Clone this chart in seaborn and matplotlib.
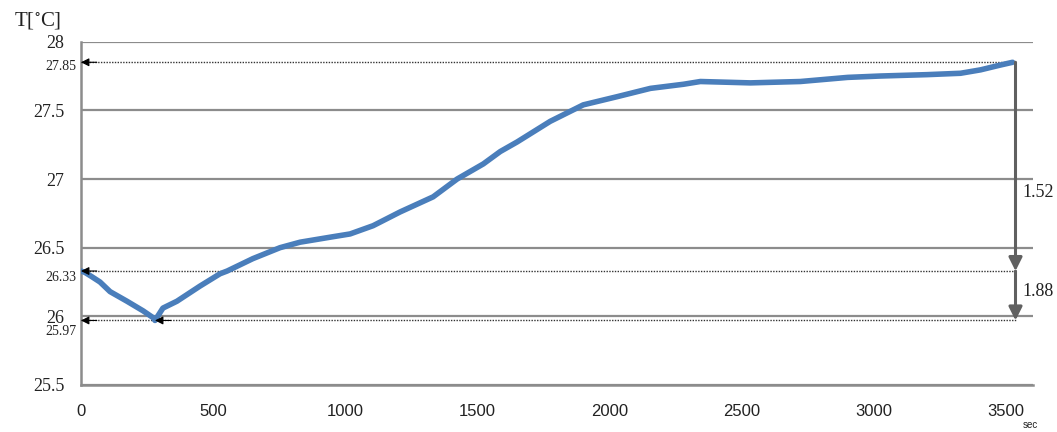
import matplotlib
matplotlib.use("Agg")
import matplotlib.pyplot as plt
import seaborn as sns
import pandas as pd

# ---- data ----
time_s = [0, 15, 40, 72, 110, 174, 235, 273, 280, 310, 363, 450, 526, 553, 650, 753, 829,
          954, 1018, 1105, 1207, 1332, 1423, 1522, 1586, 1650, 1775, 1900, 2029,
          2154, 2279, 2343, 2532, 2721, 2900, 3024, 3200, 3327, 3403, 3478, 3524]
temp_c = [26.33, 26.32, 26.29, 26.25, 26.18, 26.11, 26.04, 25.99, 25.97, 26.06, 26.11,
          26.22, 26.31, 26.33, 26.42, 26.50, 26.54, 26.58, 26.60, 26.66, 26.76, 26.87,
          27.00, 27.11, 27.20, 27.27, 27.42, 27.54, 27.60, 27.66, 27.69, 27.71, 27.70,
          27.71, 27.74, 27.75, 27.76, 27.77, 27.795, 27.83, 27.85]

y_ticks = [25.5, 26, 26.5, 27, 27.5, 28]
y_tick_labels = ["25.5", "26", "26.5", "27", "27.5", "28"]
x_ticks = [0, 500, 1000, 1500, 2000, 2500, 3000, 3500]
x_tick_labels = ["0", "500", "1000", "1500", "2000", "2500", "3000", "3500"]

marked_levels = [27.85, 26.33, 25.97]
marked_labels = ["27.85", "26.33", "25.97"]
min_time = 280
end_time = 3535
diff_labels = ["1.52", "1.88"]

df = pd.DataFrame({"t": time_s, "T": temp_c})

sns.set_theme(style="white")
plt.rcParams["font.family"] = ["Liberation Serif", "DejaVu Serif"]
plt.rcParams["mathtext.fontset"] = "stix"

fig = plt.figure(figsize=(10.57, 4.32), dpi=100)
ax = fig.add_axes([0.0766, 0.1088, 0.9004, 0.7947])

grid_c = "#8c8c8c"
sns.lineplot(data=df, x="t", y="T", ax=ax, color="#4a7ebb", linewidth=4.0,
             solid_capstyle="round", zorder=4)

ax.set_xlim(0, 3600)
ax.set_ylim(25.5, 28)
ax.set_yticks(y_ticks)
ax.set_yticklabels(y_tick_labels, fontsize=13, color="#222222")
ax.set_xticks(x_ticks)
ax.set_xticklabels(x_tick_labels, fontsize=12, color="#222222",
                   family=["Liberation Sans Narrow", "Liberation Sans"])
ax.tick_params(axis="y", length=0, pad=12)
ax.tick_params(axis="x", length=0, pad=14)
ax.set_xlabel("")
ax.set_ylabel("")

for v in y_ticks:
    ax.axhline(v, color=grid_c, lw=1.6, zorder=1)
for s in ["top", "right"]:
    ax.spines[s].set_visible(False)
for s in ["left", "bottom"]:
    ax.spines[s].set_color(grid_c)
    ax.spines[s].set_linewidth(1.8)

# dotted reference lines with arrowheads
for v in marked_levels:
    ax.plot([0, end_time], [v, v], ls=(0, (1, 1)), color="#333333", lw=1.0, zorder=3)
    ax.annotate("", xy=(0, v), xytext=(60, v),
                arrowprops=dict(arrowstyle="-|>", color="black", lw=0.8,
                                mutation_scale=12, shrinkA=0, shrinkB=0), zorder=5)
ax.annotate("", xy=(min_time, marked_levels[2]), xytext=(min_time + 60, marked_levels[2]),
            arrowprops=dict(arrowstyle="-|>", color="black", lw=0.8,
                            mutation_scale=12, shrinkA=0, shrinkB=0), zorder=5)

# small level labels left of the axis (sitting slightly below their lines)
label_offsets = [-0.03, -0.045, -0.08]
for v, lab, off in zip(marked_levels, marked_labels, label_offsets):
    ax.text(-18, v + off, lab, ha="right", va="center", fontsize=10, color="#222222",
            clip_on=False)

# vertical difference arrows
ax.annotate("", xy=(end_time, marked_levels[1]), xytext=(end_time, marked_levels[0]),
            arrowprops=dict(arrowstyle="-|>", color="#606060", lw=2.2,
                            mutation_scale=20, shrinkA=0, shrinkB=0), zorder=5)
ax.annotate("", xy=(end_time, marked_levels[2]), xytext=(end_time, marked_levels[1]),
            arrowprops=dict(arrowstyle="-|>", color="#606060", lw=2.2,
                            mutation_scale=20, shrinkA=0, shrinkB=0), zorder=5)
ax.text(3560, 26.90, diff_labels[0], ha="left", va="center", fontsize=13, color="#222222",
        clip_on=False)
ax.text(3560, 26.18, diff_labels[1], ha="left", va="center", fontsize=13, color="#222222",
        clip_on=False)

fig.text(0.013, 0.953, r"T[$^{\circ}$C]", ha="left", va="center", fontsize=15,
         color="#222222")
fig.text(0.975, 0.016, "sec", ha="center", va="center", fontsize=7,
         family=["Liberation Sans", "DejaVu Sans"], color="#222222")

fig.savefig("out.png", dpi=100)
